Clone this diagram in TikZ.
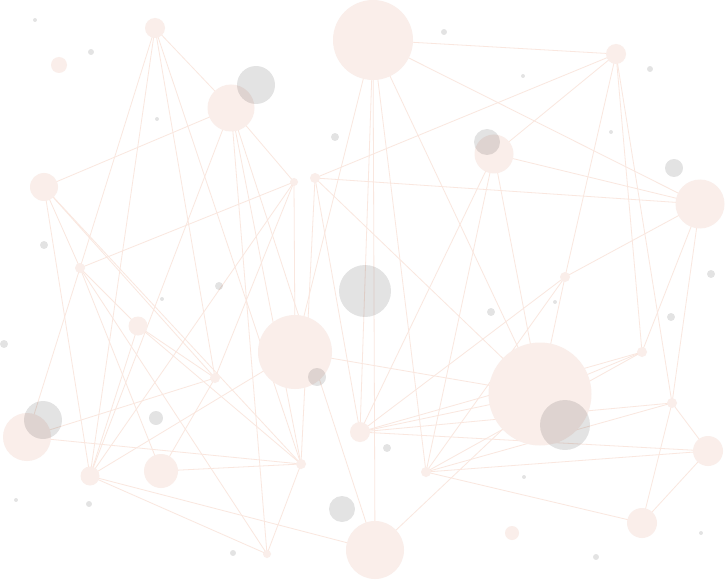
\documentclass[tikz,border=0pt]{standalone}
\usepackage{tikz}
\pgfdeclarelayer{paper}
\pgfdeclarelayer{bg}
\pgfsetlayers{paper,bg,main}
\definecolor{pinkfill}{RGB}{250,238,234}
\definecolor{linkcol}{RGB}{250,231,223}
\tikzset{
  pk/.style={circle,inner sep=0pt,fill=pinkfill,minimum size=#1},
  gr/.style={circle,inner sep=0pt,fill=black,fill opacity=0.11,minimum size=#1},
  link/.style={draw=linkcol,line width=0.8pt}
}
\begin{document}
\begin{tikzpicture}[x=1pt,y=-1pt]
\begin{pgfonlayer}{paper}
\fill[white] (0,0) rectangle (725,580);
\end{pgfonlayer}
\useasboundingbox (0,0) rectangle (725,580);
% pink nodes
\node[pk=20pt] (A) at (155,28) {};
\node[pk=16pt] (B) at (59,65) {};
\node[pk=47pt] (C) at (231,108) {};
\node[pk=80pt] (D) at (373,40) {};
\node[pk=20pt] (E) at (616,54) {};
\node[pk=28pt] (F) at (44,187) {};
\node[pk=8pt] (G) at (294,182) {};
\node[pk=10pt] (H) at (315,178) {};
\node[pk=39pt] (I) at (494,154) {};
\node[pk=49pt] (J) at (700,204) {};
\node[pk=10pt] (K) at (80,268) {};
\node[pk=19pt] (L) at (138,326) {};
\node[pk=74pt] (M) at (295,352) {};
\node[pk=10pt] (N) at (565,277) {};
\node[pk=10pt] (O) at (215,378) {};
\node[pk=10pt] (P) at (642,352) {};
\node[pk=103pt] (Q) at (540,394) {};
\node[pk=48pt] (R) at (27,437) {};
\node[pk=19pt] (S) at (90,476) {};
\node[pk=34pt] (T) at (161,471) {};
\node[pk=10pt] (U) at (301,464) {};
\node[pk=20pt] (V) at (360,432) {};
\node[pk=10pt] (W) at (426,472) {};
\node[pk=10pt] (X) at (672,403) {};
\node[pk=30pt] (Y) at (708,451) {};
\node[pk=30pt] (Z) at (642,523) {};
\node[pk=58pt] (AA) at (375,550) {};
\node[pk=14pt] (AB) at (512,533) {};
\node[pk=8pt] (AC) at (267,554) {};
% links
\begin{pgfonlayer}{bg}
\foreach \a/\b in {A/C,A/K,A/S,A/O,A/U,K/R,
  C/F,C/G,C/S,C/AC,C/U,C/AA,
  D/E,D/J,D/M,D/V,D/AA,D/W,D/Q,
  E/H,E/I,E/N,E/P,E/X,
  H/J,H/Q,H/V,H/U,
  I/J,I/Q,I/V,I/W,
  J/N,J/P,J/X,
  N/V,N/W,N/Q,
  G/K,G/S,G/M,G/O,
  F/K,F/S,F/O,F/U,
  K/T,K/L,K/AC,L/O,L/U,L/S,
  R/O,R/U,T/O,T/U,
  S/M,S/AA,S/AC,U/AC,
  V/P,V/X,V/Y,V/Q,
  W/X,W/Y,W/Z,W/P,
  X/Y,X/Z,Y/Z,AA/Q,M/Q,P/Q}
  \draw[link] (\a.center) -- (\b.center);
\end{pgfonlayer}
% grey circles
\node[gr=38pt] (g1) at (256,85) {};
\node[gr=52pt] (g2) at (365,291) {};
\node[gr=26pt] (g3) at (487,142) {};
\node[gr=18pt] (g4) at (674,168) {};
\node[gr=38pt] (g5) at (43,420) {};
\node[gr=18pt] (g6) at (317,377) {};
\node[gr=50pt] (g7) at (565,425) {};
\node[gr=26pt] (g8) at (342,509) {};
\node[gr=14pt] (g9) at (156,418) {};
\node[gr=4pt] (d1) at (35,20) {};
\node[gr=6pt] (d2) at (91,52) {};
\node[gr=4pt] (d3) at (157,119) {};
\node[gr=8pt] (d4) at (335,137) {};
\node[gr=6pt] (d5) at (444,32) {};
\node[gr=4pt] (d6) at (523,76) {};
\node[gr=6pt] (d7) at (650,69) {};
\node[gr=4pt] (d8) at (611,132) {};
\node[gr=8pt] (d9) at (44,245) {};
\node[gr=8pt] (d10) at (219,286) {};
\node[gr=4pt] (d11) at (162,299) {};
\node[gr=8pt] (d12) at (4,344) {};
\node[gr=8pt] (d13) at (491,312) {};
\node[gr=4pt] (d14) at (555,302) {};
\node[gr=8pt] (d15) at (671,317) {};
\node[gr=8pt] (d16) at (711,274) {};
\node[gr=8pt] (d17) at (387,448) {};
\node[gr=6pt] (d18) at (89,504) {};
\node[gr=4pt] (d19) at (16,500) {};
\node[gr=6pt] (d20) at (233,553) {};
\node[gr=4pt] (d21) at (524,477) {};
\node[gr=6pt] (d22) at (596,557) {};
\node[gr=4pt] (d23) at (701,533) {};
\end{tikzpicture}
\end{document}
